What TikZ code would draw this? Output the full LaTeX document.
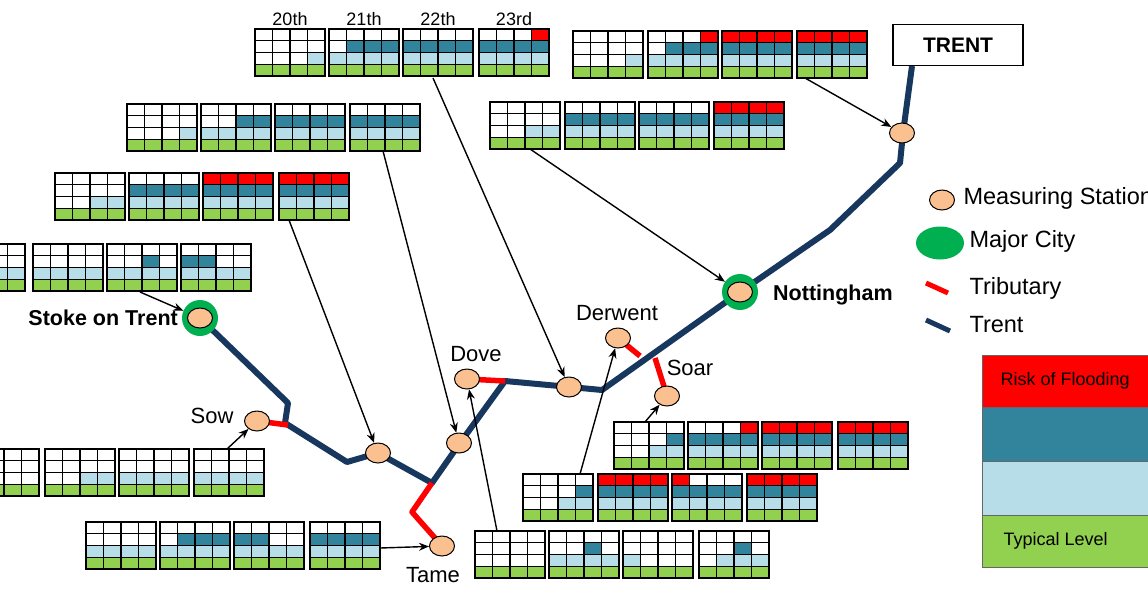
\documentclass[tikz,border=0pt]{standalone}
\usepackage{fontspec}
\setmainfont{Liberation Sans}
\usetikzlibrary{arrows.meta,shapes.geometric}
\definecolor{lv1}{HTML}{92D050}
\definecolor{lv2}{HTML}{B7DEE8}
\definecolor{lv3}{HTML}{31849B}
\definecolor{lv4}{HTML}{FF0000}
\definecolor{navy}{HTML}{17375E}
\definecolor{stn}{HTML}{FAC090}
\definecolor{city}{HTML}{00B050}
\newcommand\lvgrid[3]{%
 \foreach \c [count=\i from 0] in {#3}{%
  \foreach \r in {1,2,3,4}{%
   \ifnum\r>\c\relax \def\fc{white}\else\def\fc{lv\r}\fi
   \filldraw[fill=\fc,draw=black,line width=1.1pt] ({#1+\i*17.5},{#2+47-\r*11.75}) rectangle ++(17.5,11.75);
  }}}
\tikzset{
 station/.style={ellipse,draw=black,fill=stn,line width=1pt,minimum width=25pt,minimum height=20pt,inner sep=0pt},
 cityn/.style={circle,fill=city,minimum size=36pt,inner sep=0pt},
 trent/.style={navy,line width=6pt,line join=round},
 trib/.style={red,line width=5.5pt,line join=round},
 ptr/.style={-{Stealth[length=10pt,width=8pt]},line width=1.4pt},
 lbl/.style={font=\fontsize{22}{26}\selectfont},
 blbl/.style={font=\fontsize{21.5}{26}\selectfont\bfseries},
 leg/.style={font=\fontsize{23.5}{28}\selectfont,anchor=west},
 hdr/.style={font=\fontsize{18}{21}\selectfont}
}
\begin{document}
\begin{tikzpicture}[x=1pt,y=-1pt]
\useasboundingbox (0,0) rectangle (1148,603);
% river
\coordinate (tb) at (912,66);
\draw[trent] (200,318) -- (288,403) -- (285,423) -- (347,462) -- (378,453) -- (432,483) -- (460,443) -- (505,381) -- (570,387) -- (602,390) -- (740,292) -- (830,230) -- (900,163) -- (903,133) -- (tb);
\draw[trib] (257,421) -- (288,425);
\draw[trib] (442,546) -- (412,512) -- (432,483);
\draw[trib] (467,379) -- (505,381);
\draw[trib] (618,338) -- (640,356);
\draw[trib] (655,358) -- (667,396);
% cities and stations
\node[cityn] (stoke) at (200,318) {};
\node[station] (stokes) at (200,318) {};
\node[cityn] (nott) at (740,292) {};
\node[station] (notts) at (740,292) {};
\node[station] (sow) at (257,421) {};
\node[station] (t1) at (378,453) {};
\node[station] (t2) at (459,443) {};
\node[station] (dove) at (467,379) {};
\node[station] (t3) at (569,387) {};
\node[station] (derwent) at (618,338) {};
\node[station] (soar) at (667,396) {};
\node[station] (tame) at (442,546) {};
\node[station] (ttop) at (902,133) {};
% labels
\node[blbl,anchor=east,inner sep=0pt] at (178,318) {Stoke on Trent};
\node[blbl,anchor=west,inner sep=0pt] at (773,295) {Nottingham};
\node[lbl] at (212,416) {Sow};
\node[lbl] at (476,354) {Dove};
\node[lbl] at (617,313) {Derwent};
\node[lbl] at (690,368) {Soar};
\node[lbl] at (433,575) {Tame};
\node[draw=black,line width=1.2pt,minimum width=130pt,minimum height=41pt,font=\fontsize{21}{25}\selectfont\bfseries] (trentbox) at (958,45) {TRENT};
% grids
\node[hdr] at (290,19) {20th};\node[hdr] at (364,19) {21th};
\node[hdr] at (438,19) {22th};\node[hdr] at (514,19) {23rd};
\lvgrid{255}{29}{1,1,1,2}\lvgrid{329}{29}{2,3,3,3}\lvgrid{403}{29}{3,3,3,3}\lvgrid{479}{29}{3,3,3,4}
\lvgrid{573}{31}{1,1,1,2}\lvgrid{648}{31}{2,3,3,4}\lvgrid{722}{31}{4,4,4,4}\lvgrid{797}{31}{4,4,4,4}
\lvgrid{490}{102}{1,1,2,2}\lvgrid{565}{102}{3,3,3,3}\lvgrid{639}{102}{3,3,3,3}\lvgrid{714}{102}{4,4,4,4}
\lvgrid{127}{104}{1,1,1,2}\lvgrid{201}{104}{2,2,3,3}\lvgrid{275}{104}{3,3,3,3}\lvgrid{350}{104}{3,3,3,3}
\lvgrid{55}{173}{1,1,2,2}\lvgrid{129}{173}{3,3,3,3}\lvgrid{203}{173}{4,4,4,4}\lvgrid{279}{173}{4,4,4,4}
\lvgrid{-45}{244}{2,2,2,2}\lvgrid{33}{244}{2,2,2,2}\lvgrid{107}{244}{2,2,3,2}\lvgrid{181}{244}{3,3,2,2}
\lvgrid{-31}{449}{1,1,1,1}\lvgrid{45}{449}{1,1,2,2}\lvgrid{119}{449}{2,2,2,2}\lvgrid{194}{449}{2,2,2,2}
\lvgrid{86}{522}{2,2,2,2}\lvgrid{160}{522}{2,3,3,3}\lvgrid{234}{522}{3,3,2,2}\lvgrid{310}{522}{3,3,3,3}
\lvgrid{475}{531}{1,1,1,1}\lvgrid{549}{531}{2,2,3,2}\lvgrid{623}{531}{2,1,1,1}\lvgrid{699}{531}{1,2,3,2}
\lvgrid{523}{474}{1,1,2,3}\lvgrid{598}{474}{4,4,4,4}\lvgrid{672}{474}{4,3,3,3}\lvgrid{747}{474}{4,4,4,4}
\lvgrid{614}{422}{1,1,2,3}\lvgrid{688}{422}{3,3,3,4}\lvgrid{762}{422}{4,4,4,4}\lvgrid{838}{422}{4,4,4,4}
% pointers
\coordinate (p1) at (433,78);\coordinate (p2) at (383,151);\coordinate (p3) at (289,220);
\coordinate (p4) at (140,292);\coordinate (p5) at (227,449);\coordinate (p6) at (380,548);
\coordinate (p7) at (497,531);\coordinate (p8) at (580,474);\coordinate (p9) at (645,422);
\coordinate (p10) at (530,149);\coordinate (p11) at (805,78);
\draw[ptr] (p1) -- (t3);\draw[ptr] (p2) -- (t2);\draw[ptr] (p3) -- (t1);
\draw[ptr] (p4) -- (stoke);\draw[ptr] (p5) -- (sow);\draw[ptr] (p6) -- (tame);
\draw[ptr] (p7) -- (dove);\draw[ptr] (p8) -- (derwent);\draw[ptr] (p9) -- (soar);
\draw[ptr] (p10) -- (nott);\draw[ptr] (p11) -- (ttop);
% legend
\node[station] (lg1) at (942,200) {};
\node[leg] at (960,198) {Measuring Station};
\node[ellipse,fill=city,minimum width=48pt,minimum height=33pt] (lg2) at (940,243) {};
\node[leg] at (966,241) {Major City};
\coordinate (r1) at (926,283);\coordinate (r2) at (948,293);
\draw[red,line width=5pt] (r1) -- (r2);
\node[leg] at (966,288) {Tributary};
\coordinate (n1) at (926,320);\coordinate (n2) at (950,331);
\draw[navy,line width=5pt] (n1) -- (n2);
\node[leg] at (966,325) {Trent};
\filldraw[fill=lv4,draw=black!60] (982,355) rectangle (1160,407);
\filldraw[fill=lv3,draw=black!60] (982,407) rectangle (1160,461);
\filldraw[fill=lv2,draw=black!60] (982,461) rectangle (1160,515);
\filldraw[fill=lv1,draw=black!60] (982,515) rectangle (1160,567);
\node[font=\fontsize{18}{21}\selectfont,anchor=west] (rf) at (997,381) {Risk of Flooding};
\node[font=\fontsize{18}{21}\selectfont,anchor=west] (tl) at (1000,541) {Typical Level};
\end{tikzpicture}
\end{document}
